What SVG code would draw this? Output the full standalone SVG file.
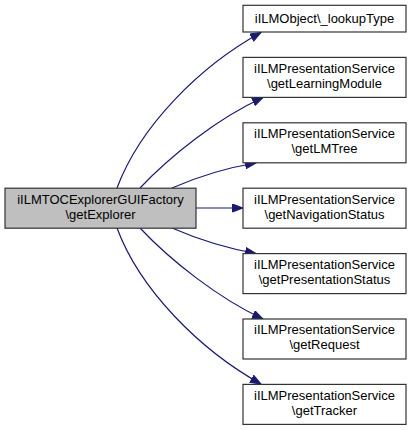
<svg xmlns="http://www.w3.org/2000/svg" width="412" height="430" viewBox="0 0 412 430">
<defs>
<style>
.node rect{fill:#fff;stroke:#333;stroke-width:1.2}
#n0 rect{fill:#bfbfbf}
text{font-family:"Liberation Sans",Arial,sans-serif;font-size:13px;fill:#000;text-anchor:middle}
.edge{fill:none;stroke:#191970;stroke-width:1.2;marker-end:url(#arr)}
</style>
<marker id="arr" markerUnits="userSpaceOnUse" markerWidth="12" markerHeight="9" refX="11" refY="4.5" orient="auto">
<path d="M0.5,0.5 L11,4.5 L0.5,8.5 z" fill="#191970" stroke="#191970"/>
</marker>
</defs>
<rect width="412" height="430" fill="#fff"/>
<g id="edges">
<path class="edge" d="M117,188 C140,126 200,66 261,32.5"/>
<path class="edge" d="M140,188 C170,156 218,118 263,97.5"/>
<path class="edge" d="M172,188 C195,178 225,168 256,163"/>
<path class="edge" d="M196,208 L243,208"/>
<path class="edge" d="M172,228 C195,238 225,248 256,253.5"/>
<path class="edge" d="M140,228 C170,260 218,298 263,319"/>
<path class="edge" d="M117,228 C140,290 200,350 261,384"/>
</g>
<g id="n0" class="node"><rect x="5" y="188.2" width="191" height="40"/><text x="100.5" y="203.5">iILMTOCExplorerGUIFactory</text><text x="100.5" y="218.5">\getExplorer</text></g>
<g id="n1" class="node"><rect x="243" y="5.3" width="163" height="26.7"/><text x="324.5" y="23">iILMObject\_lookupType</text></g>
<g id="n2" class="node"><rect x="243" y="57.4" width="163" height="40"/><text x="324.5" y="72.7">iILMPresentationService</text><text x="324.5" y="87.7">\getLearningModule</text></g>
<g id="n3" class="node"><rect x="243" y="122.8" width="163" height="40"/><text x="324.5" y="138.1">iILMPresentationService</text><text x="324.5" y="153.1">\getLMTree</text></g>
<g id="n4" class="node"><rect x="243" y="188.2" width="163" height="40"/><text x="324.5" y="203.5">iILMPresentationService</text><text x="324.5" y="218.5">\getNavigationStatus</text></g>
<g id="n5" class="node"><rect x="243" y="253.6" width="163" height="40"/><text x="324.5" y="268.9">iILMPresentationService</text><text x="324.5" y="283.9">\getPresentationStatus</text></g>
<g id="n6" class="node"><rect x="243" y="319" width="163" height="40"/><text x="324.5" y="334.3">iILMPresentationService</text><text x="324.5" y="349.3">\getRequest</text></g>
<g id="n7" class="node"><rect x="243" y="384.4" width="163" height="40"/><text x="324.5" y="399.7">iILMPresentationService</text><text x="324.5" y="414.7">\getTracker</text></g>
</svg>
